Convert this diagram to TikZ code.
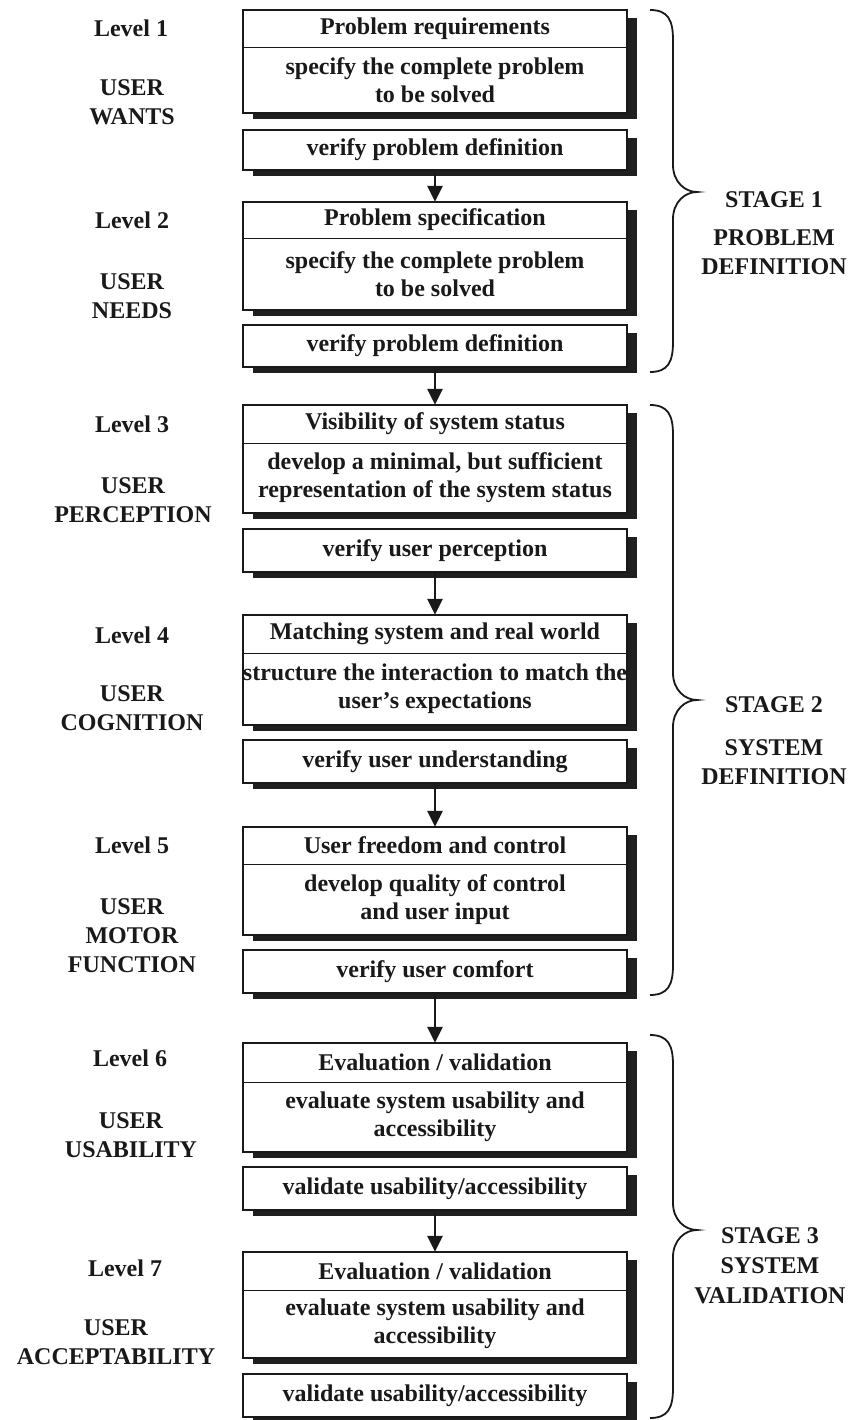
\documentclass[tikz,border=0pt]{standalone}
\usepackage{fontspec}
\setmainfont{Liberation Serif}
\usetikzlibrary{arrows.meta}
\tikzset{
  x=1pt, y=-1pt,
  lbl/.style={font=\fontsize{24}{29}\selectfont\bfseries, align=center, inner sep=0pt, text=black!90},
  stg/.style={font=\fontsize{24}{30}\selectfont\bfseries, align=center, inner sep=0pt, text=black!90},
  boxtxt/.style={font=\fontsize{24}{28}\selectfont\bfseries, align=center, inner sep=0pt, fill=white, minimum width=384pt, text=black!90},
  outline/.style={line width=1.8pt, draw=black!90},
  sepline/.style={line width=1.2pt, draw=black!90},
  shadowfill/.style={fill=black!88},
  arr/.style={line width=2.6pt, draw=black!90, -{Triangle[width=15pt,length=16pt]}},
  bracestroke/.style={line width=1.8pt, draw=black!90},
}
\newcommand\levelbox[9]{%
  \fill[shadowfill] (253,{#2+8}) rectangle (637,{#4+6});
  \fill[shadowfill] (253,{#5+8}) rectangle (637,{#6+6});
  \node[boxtxt, minimum height={(#3-#2)*1pt}] (t#1) at (435,{(#2+#3)/2}) {#7};
  \node[boxtxt, minimum height={(#4-#3)*1pt}] (b#1) at (435,{(#3+#4)/2}) {#8};
  \node[boxtxt, minimum height={(#6-#5)*1pt}, draw, outline] (v#1) at (435,{(#5+#6)/2}) {#9};
  \draw[outline] (t#1.north west) rectangle (b#1.south east);
  \draw[sepline] (t#1.south west) -- (t#1.south east);
}
\newcommand\stagebrace[3]{%
  \draw[bracestroke] (650,#1) .. controls (668,#1) and (673,{#1+10}) .. (673,{#1+30})
    -- (673,{#2-27}) .. controls (673,{#2-10}) and (685,#2) .. (697,#2)
    .. controls (685,#2) and (673,{#2+10}) .. (673,{#2+27})
    -- (673,{#3-30}) .. controls (673,{#3-10}) and (668,#3) .. (650,#3);
}
\begin{document}
\begin{tikzpicture}
\fill[white] (0,0) rectangle (858,1420);
\clip (0,0) rectangle (858,1420);

% boxes
\levelbox{1}{10}{47}{113}{130}{170}{Problem requirements}{specify the complete problem\\to be solved}{verify problem definition}
\levelbox{2}{202}{238}{310}{325}{367}{Problem specification}{specify the complete problem\\to be solved}{verify problem definition}
\levelbox{3}{405}{443}{513}{529}{572}{Visibility of system status}{develop a minimal, but sufficient\\representation of the system status}{verify user perception}
\levelbox{4}{615}{653}{725}{740}{783}{Matching system and real world}{structure the interaction to match the\\user's expectations}{verify user understanding}
\levelbox{5}{827}{864}{935}{950}{993}{User freedom and control}{develop quality of control\\and user input}{verify user comfort}
\levelbox{6}{1043}{1082}{1152}{1167}{1210}{Evaluation / validation}{evaluate system usability and\\accessibility}{validate usability/accessibility}
\levelbox{7}{1252}{1290}{1358}{1374}{1417}{Evaluation / validation}{evaluate system usability and\\accessibility}{validate usability/accessibility}

% arrows
\draw[arr] (v1.south) -- (t2.north);
\draw[arr] (v2.south) -- (t3.north);
\draw[arr] (v3.south) -- (t4.north);
\draw[arr] (v4.south) -- (t5.north);
\draw[arr] (v5.south) -- (t6.north);
\draw[arr] (v6.south) -- (t7.north);

% left labels
\node[lbl] (lv1) at (131,28) {Level 1};
\node[lbl] (us1) at (132,102.5) {USER\\WANTS};
\node[lbl] (lv2) at (132,220) {Level 2};
\node[lbl] (us2) at (132,296.5) {USER\\NEEDS};
\node[lbl] (lv3) at (132,424) {Level 3};
\node[lbl] (us3) at (133,500) {USER\\PERCEPTION};
\node[lbl] (lv4) at (132,635) {Level 4};
\node[lbl] (us4) at (132,708) {USER\\COGNITION};
\node[lbl] (lv5) at (132,845) {Level 5};
\node[lbl] (us5) at (132,935.5) {USER\\MOTOR\\FUNCTION};
\node[lbl] (lv6) at (130,1058) {Level 6};
\node[lbl] (us6) at (131,1135) {USER\\USABILITY};
\node[lbl] (lv7) at (125,1268) {Level 7};
\node[lbl] (us7) at (116,1342.5) {USER\\ACCEPTABILITY};

% braces
\stagebrace{10}{192}{372}
\stagebrace{405}{700}{995}
\stagebrace{1035}{1230}{1418}

% stage labels
\node[lbl] (st1) at (774,200) {STAGE 1};
\node[lbl] (sn1) at (774,252) {PROBLEM\\DEFINITION};
\node[lbl] (st2) at (774,705) {STAGE 2};
\node[lbl] (sn2) at (774,762) {SYSTEM\\DEFINITION};
\node[stg] (st3) at (770,1266) {STAGE 3\\SYSTEM\\VALIDATION};
\end{tikzpicture}
\end{document}
